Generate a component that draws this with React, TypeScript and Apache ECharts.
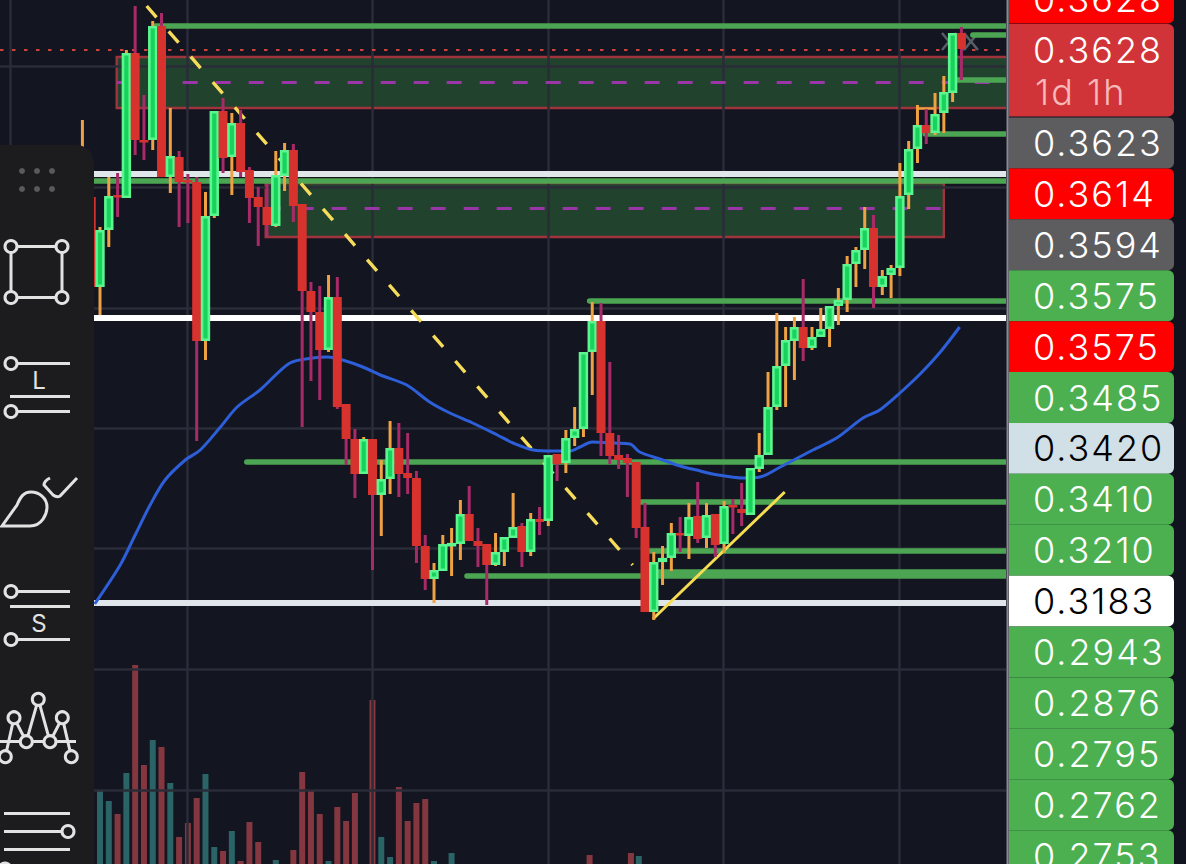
import React, { useEffect, useRef } from "react";
import * as echarts from "echarts";

// Candles, index 0 here is candle number FIRST_CANDLE on the x axis. Prices are in 1e-4 units of the picture's scale.
const FIRST_CANDLE = -2;
const opens = [3428,3481,3391,3448,3483,3480,3625,3538,3538,3652,3501,3521,3498,3496,3337,3462,3567,3521,3555,3508,3481,3471,3452,3502,3528,3474,3387,3366,3328,3381,3274,3239,3204,3239,3183,3199,3230,3205,3200,3132,3099,3107,3133,3134,3164,3137,3134,3113,3126,3140,3152,3126,3159,3157,3224,3215,3240,3249,3326,3357,3245,3223,3220,3216,3151,3066,3116,3120,3145,3142,3162,3140,3164,3134,3173,3169,3163,3209,3223,3271,3312,3337,3351,3330,3341,3349,3372,3378,3414,3428,3450,3391,3403,3410,3483,3529,3553,3545,3565,3585,3645];
const closes = [3488,3391,3448,3482,3481,3625,3538,3536,3652,3501,3522,3496,3496,3337,3462,3567,3520,3555,3506,3480,3471,3453,3503,3528,3472,3387,3366,3328,3381,3271,3239,3204,3239,3183,3199,3230,3204,3200,3132,3099,3108,3134,3135,3164,3137,3132,3113,3126,3141,3151,3126,3159,3156,3223,3214,3240,3249,3326,3357,3245,3222,3218,3215,3150,3066,3116,3120,3145,3143,3161,3139,3163,3133,3172,3171,3165,3210,3223,3271,3312,3338,3351,3330,3341,3349,3372,3378,3414,3428,3450,3391,3402,3410,3482,3529,3553,3545,3564,3586,3645,3629];
const lows = [3418,3378,3363,3431,3461,3480,3523,3518,3528,3501,3485,3451,3455,3237,3318,3460,3505,3483,3501,3455,3432,3441,3451,3487,3456,3251,3297,3278,3326,3269,3213,3180,3204,3108,3142,3184,3181,3184,3115,3088,3075,3107,3102,3118,3137,3111,3073,3112,3112,3140,3111,3122,3143,3152,3197,3205,3232,3241,3283,3222,3214,3209,3181,3140,3066,3058,3093,3107,3126,3119,3135,3130,3121,3125,3144,3152,3163,3206,3223,3268,3271,3298,3317,3328,3341,3331,3353,3366,3391,3409,3370,3383,3380,3402,3469,3515,3534,3543,3545,3576,3598];
const highs = [3558,3488,3451,3501,3505,3628,3672,3583,3657,3665,3570,3527,3504,3501,3486,3567,3580,3565,3568,3511,3491,3494,3527,3535,3534,3474,3396,3392,3403,3401,3274,3249,3241,3239,3218,3257,3255,3245,3207,3143,3115,3143,3150,3178,3192,3150,3134,3145,3141,3185,3155,3165,3171,3223,3224,3248,3271,3326,3376,3375,3316,3243,3224,3216,3175,3126,3132,3155,3161,3175,3196,3175,3164,3177,3179,3195,3210,3245,3306,3365,3351,3361,3399,3351,3370,3372,3390,3422,3431,3471,3463,3408,3413,3515,3537,3573,3569,3585,3602,3645,3651];

// Moving average: candle number and price
const maIndex = [-0.6,2.3,4,5.7,7.4,9.7,11.4,13.7,15.6,18.2,21.6,24.2,25.9,27.6,29.9,31.9,34.9,37.5,39.8,42.4,45.2,47,49.3,51.5,53.5,54.6,56,58.4,60.3,61.4,63.7,66,68.3,69.7,73.2,75.1,77.4,81.1,83.8,86.8,88.7,91,93.3,95.6,97.8];
const maValue = [3074,3113,3143,3173,3198,3218,3228,3251,3271,3288,3315,3320,3321,3318,3311,3303,3293,3276,3265,3255,3243,3235,3228,3227,3227,3231,3236,3235,3234,3226,3219,3212,3207,3204,3200,3201,3211,3228,3240,3260,3268,3285,3304,3326,3351];

// Volume
const volIndex = [0,1,2,3,4,5,6,7,8,9,10,11,12,13,14,15,16,17,18,20,22,23,24,25,26,27,28,29,31,32,33,34,35,36,37,38,40,55.7,60.4,61.3];
const volValue = [74,63,50,91,199,99,124,117,81,27,41,66,90,17,13,33,3,42,22,4,14,92,73,50,3,57,43,71,164,27,7,77,43,61,65,3,11,9,11,8];
const volRising = [1,1,0,1,0,0,1,0,1,0,0,0,1,1,0,1,0,0,0,1,0,0,0,0,1,0,0,0,0,1,1,0,0,0,0,1,1,0,0,1];

// Drawn levels: price and the candle they start from
const greenPrice = [3652.5,3643,3598,3544,3497.5,3377,3216,3176,3127,3102,3106];
const greenFrom = [6.3,99.3,97,93.9,-1,55.7,16.7,61.5,62.3,41.75,63.1];
const whitePrice = [3504.5,3360.7,3075];
const whiteColor = ["#dfe7ea","#ffffff","#dfe5ea"];
const lastPrice = 3628.5;
const gridPrices = [3612,3491,3370,3250,3130,3009,2888];
const gridCandles = [-10.2,9.93,31.02,51,70.9,90.9];
const zoneTop = [3621,3495];
const zoneBottom = [3570,3441];
const zoneFrom = [1.9,18.85];
const zoneTo = [104,96];
const zoneMid = [3596,3470];

// Price tags
const tagLabels = ["0.3623","0.3614","0.3594","0.3575","0.3575","0.3485","0.3420","0.3410","0.3210","0.3183","0.2943","0.2876","0.2795","0.2762","0.2753"];
const tagFills = ["#5d5d60","#ff0000","#5d5d60","#4caf50","#ff0000","#4caf50","#d1dfe6","#4caf50","#4caf50","#ffffff","#4caf50","#4caf50","#4caf50","#4caf50","#4caf50"];
const tagTexts = ["#fff","#fff","#fff","#fff","#fff","#fff","#000","#fff","#fff","#000","#fff","#fff","#fff","#fff","#fff"];

echarts.graphic.registerShape(
  "brushHead",
  echarts.graphic.extendPath("M2 526 L30 526 C42 526 47 514 47 507 C47 498 39 492 31 492 C23 492 20 498 17 505 Z M50 478 Q44 481 44 485 L53 495 Q57 498 60 496 L77 478", {})
);

const BG = "#131521";
const INK = "#e2e2e2";
const PANEL = "#1c1c1e";
const TAG_FONT = "300 36px Inter, Roboto, sans-serif";

const seg = (x1: number, y1: number, x2: number, y2: number, extra: any = {}) => ({
  type: "line", z: 102, shape: { x1, y1, x2, y2 }, style: { stroke: INK, lineWidth: 3, ...extra },
});
const dot = (cx: number, cy: number, r = 6) => ({
  type: "circle", z: 103, shape: { cx, cy, r }, style: { fill: PANEL, stroke: INK, lineWidth: 3 },
});
const glyph = (text: string, x: number, y: number) => ({
  type: "text", z: 103,
  style: { text, x, y, fill: INK, font: "400 24px Inter, Roboto, sans-serif", textAlign: "center", textVerticalAlign: "middle" },
});

function toolbar() {
  const out: any[] = [
    { type: "rect", z: 101, shape: { x: -30, y: 145, width: 124, height: 760, r: 18 }, style: { fill: PANEL } },
  ];
  [22, 37, 52].forEach((x) => [171, 189].forEach((y) =>
    out.push({ type: "circle", z: 102, shape: { cx: x, cy: y, r: 3 }, style: { fill: "#5a5a5a" } })));
  out.push(seg(11, 246.5, 62, 246.5), seg(11, 297.5, 62, 297.5), seg(11, 246.5, 11, 297.5), seg(62, 246.5, 62, 297.5));
  out.push(dot(11, 246.5), dot(62, 246.5), dot(11, 297.5), dot(62, 297.5));
  out.push(seg(11, 363.5, 70, 363.5), seg(10, 396.5, 70, 396.5), seg(11, 411.5, 70, 411.5), dot(11, 363.5), dot(11, 411.5), glyph("L", 40, 380));
  out.push({ type: "brushHead", z: 102, x: 0, y: 0, style: { fill: "none", stroke: INK, lineWidth: 3 } });
  out.push(seg(11, 591.5, 70, 591.5), seg(10, 606.5, 70, 606.5), seg(11, 639.5, 70, 639.5), dot(11, 591.5), dot(11, 639.5), glyph("S", 40, 623));
  out.push(seg(0, 741.5, 76, 741.5));
  out.push({
    type: "polyline", z: 102,
    shape: { points: [[5.3, 756.7], [14, 717.7], [26.3, 741.7], [38.3, 699.3], [50, 741.7], [62.3, 717.7], [71.3, 756.7]] },
    style: { stroke: INK, lineWidth: 3, fill: "none" },
  });
  out.push(dot(38.3, 699.3), dot(14, 717.7), dot(62.3, 717.7), dot(26.3, 741.7), dot(50, 741.7), dot(5.3, 756.7), dot(71.3, 756.7));
  out.push(seg(4, 813.5, 70, 813.5), seg(4, 831.5, 62, 831.5), seg(4, 849.5, 70, 849.5), dot(68, 831.5), dot(5, 869));
  return out;
}

function priceTags() {
  const out: any[] = [
    { type: "rect", z: 101, shape: { x: 1006, y: 0, width: 180, height: 864 }, style: { fill: "#11131f" } },
    { type: "rect", z: 102, shape: { x: 1006.5, y: 0, width: 2.2, height: 864 }, style: { fill: "#8a8a90" } },
    { type: "rect", z: 102, shape: { x: 1009, y: -30, width: 165, height: 53.5, r: [0, 6, 6, 0] }, style: { fill: "#ff0000" } },
    { type: "text", z: 103, style: { text: "0.3628", x: 1033, y: -1, fill: "#fff", font: TAG_FONT, textVerticalAlign: "middle" } },
    { type: "rect", z: 102, shape: { x: 1009, y: 24, width: 165, height: 92.5, r: [0, 6, 6, 0] }, style: { fill: "#d13438" } },
    { type: "text", z: 103, style: { text: "0.3628", x: 1033, y: 50, fill: "#fff", font: TAG_FONT, textVerticalAlign: "middle" } },
    { type: "text", z: 103, style: { text: "1d 1h", x: 1035, y: 92, fill: "#f6b9ba", font: TAG_FONT, textVerticalAlign: "middle" } },
  ];
  tagLabels.forEach((label, k) => {
    const cy = 143 + k * 50.9;
    out.push({ type: "rect", z: 102, shape: { x: 1009, y: cy - 25.45, width: 165, height: 50.9, r: [0, 6, 6, 0] }, style: { fill: tagFills[k] } });
    out.push({ type: "text", z: 103, style: { text: label, x: 1033, y: cy, fill: tagTexts[k], font: TAG_FONT, textVerticalAlign: "middle" } });
  });
  return out;
}

function crossMarks() {
  const out: any[] = [];
  [949, 971].forEach((cx) => {
    out.push({ type: "line", z: 4, shape: { x1: cx - 7, y1: 33, x2: cx + 7, y2: 50 }, style: { stroke: "#5a5e66", lineWidth: 2.5 } });
    out.push({ type: "line", z: 4, shape: { x1: cx + 7, y1: 33, x2: cx - 7, y2: 50 }, style: { stroke: "#5a5e66", lineWidth: 2.5 } });
  });
  return out;
}

function renderCandle(_: any, api: any) {
  const i = api.value(0), o = api.value(1), c = api.value(2), l = api.value(3), h = api.value(4);
  const rising = c >= o;
  const [x, yTop] = api.coord([i, Math.max(o, c)]);
  const yBot = api.coord([i, Math.min(o, c)])[1];
  const yHigh = api.coord([i, h])[1];
  const yLow = api.coord([i, l])[1];
  const wick = {
    type: "rect",
    shape: { x: x - 1.5, y: yHigh, width: 3, height: Math.max(yLow - yHigh, 1) },
    style: { fill: rising ? "#eea243" : "#a82a68" },
  };
  const body = rising
    ? {
        type: "rect",
        shape: { x: x - 3.4, y: yTop + 1.2, width: 6.8, height: Math.max(yBot - yTop - 2.4, 1) },
        style: { fill: "#17d35c", stroke: "#5cf590", lineWidth: 2.6 },
      }
    : {
        type: "rect",
        shape: { x: x - 4.5, y: yTop, width: 9, height: Math.max(yBot - yTop, 2.5) },
        style: { fill: "#d8322f" },
      };
  return { type: "group", children: [wick, body] };
}

const ruleSeries = (name: string, z: number, data: any[], lineStyle: any) => ({
  name, type: "line", z, data: [], silent: true,
  markLine: { silent: true, symbol: ["none", "none"], animation: false, label: { show: false }, emphasis: { disabled: true }, lineStyle, data },
});

export default function App() {
  const ref = useRef<HTMLDivElement>(null);
  useEffect(() => {
    document.body.style.margin = "0";
    document.body.style.background = BG;
    const chart = echarts.init(ref.current!, null, { renderer: "svg" });
    const X_MIN = -11.376, X_MAX = 123.55, XR = 104;
    const gridStyle = { color: "#2a2c38", width: 2.5, type: "solid", opacity: 1 };
    chart.setOption({
      animation: false,
      backgroundColor: BG,
      grid: { left: 0, right: 0, top: 0, bottom: 0 },
      tooltip: { show: false },
      xAxis: { type: "value", min: X_MIN, max: X_MAX, show: false, splitLine: { show: false } },
      yAxis: [
        { type: "value", min: 2814, max: 3678, show: false, splitLine: { show: false } },
        { type: "value", min: 0, max: 864, show: false, splitLine: { show: false } },
      ],
      series: [
        ruleSeries("grid", 1, [
          ...gridPrices.map((p) => ({ yAxis: p })),
          ...gridCandles.map((c) => ({ xAxis: c })),
        ], gridStyle),
        {
          name: "volume", type: "bar", yAxisIndex: 1, z: 2, barWidth: 6, silent: true,
          data: volIndex.map((v, k) => ({
            value: [v, volValue[k]],
            itemStyle: { color: volRising[k] ? "#2a6466" : "#84373f" },
          })),
        },
        {
          name: "zones", type: "line", z: 3, data: [], silent: true,
          markArea: {
            silent: true,
            itemStyle: { color: "rgba(48,112,58,0.5)", borderColor: "#a0343c", borderWidth: 2.4 },
            data: zoneTop.map((t, k) => [
              { coord: [zoneFrom[k], t] },
              { coord: [zoneTo[k], zoneBottom[k]] },
            ]),
          },
        },
        ruleSeries("zone mid", 4, zoneMid.map((p, k) => [
          { coord: [zoneFrom[k], p] }, { coord: [zoneTo[k], p] },
        ]), { color: "#9a35a8", width: 3, type: [15, 18] }),
        ruleSeries("last price", 4, [{ yAxis: lastPrice }], { color: "#c8453f", width: 2.2, type: [3.5, 8.5] }),
        ruleSeries("white levels", 4, whitePrice.map((p, k) => [
          { coord: [-1, p], lineStyle: { color: whiteColor[k] } }, { coord: [XR, p] },
        ]), { width: 6, type: "solid" }),
        ruleSeries("green levels", 4, greenPrice.map((p, k) => [
          { coord: [greenFrom[k], p] }, { coord: [XR, p] },
        ]), { color: "#4ca552", width: 5.5, type: "solid", cap: "round" }),
        ruleSeries("stub", 4, [[{ coord: [93, 3569.3] }, { coord: [95, 3569.3] }]], { color: "#eea243", width: 2.5, type: "solid" }),
        {
          name: "ma", type: "line", z: 5, symbol: "none", smooth: 0.3, silent: true,
          lineStyle: { color: "#2d5fd8", width: 3 },
          data: maIndex.map((v, k) => [v, maValue[k]]),
        },
        {
          name: "candles", type: "custom", z: 6, silent: true, clip: false,
          renderItem: renderCandle,
          encode: { x: 0, y: [1, 2, 3, 4] },
          data: opens.map((o, k) => [k + FIRST_CANDLE, o, closes[k], lows[k], highs[k]]),
        },
        ruleSeries("trend dashed", 7, [[{ coord: [5.31, 3672] }, { coord: [60.6, 3113] }]], { color: "#f5dc5a", width: 3.4, type: [15, 18.6] }),
        ruleSeries("trend solid", 7, [[{ coord: [62.9, 3059] }, { coord: [77.9, 3186] }]], { color: "#f5dc50", width: 3, type: "solid" }),
      ],
      graphic: { elements: [...crossMarks(), ...toolbar(), ...priceTags()] },
    });
    return () => chart.dispose();
  }, []);
  return (
    <>
      <style>{"svg text { letter-spacing: 2px; }"}</style>
      <div ref={ref} style={{ width: 1186, height: 864 }} />
    </>
  );
}
